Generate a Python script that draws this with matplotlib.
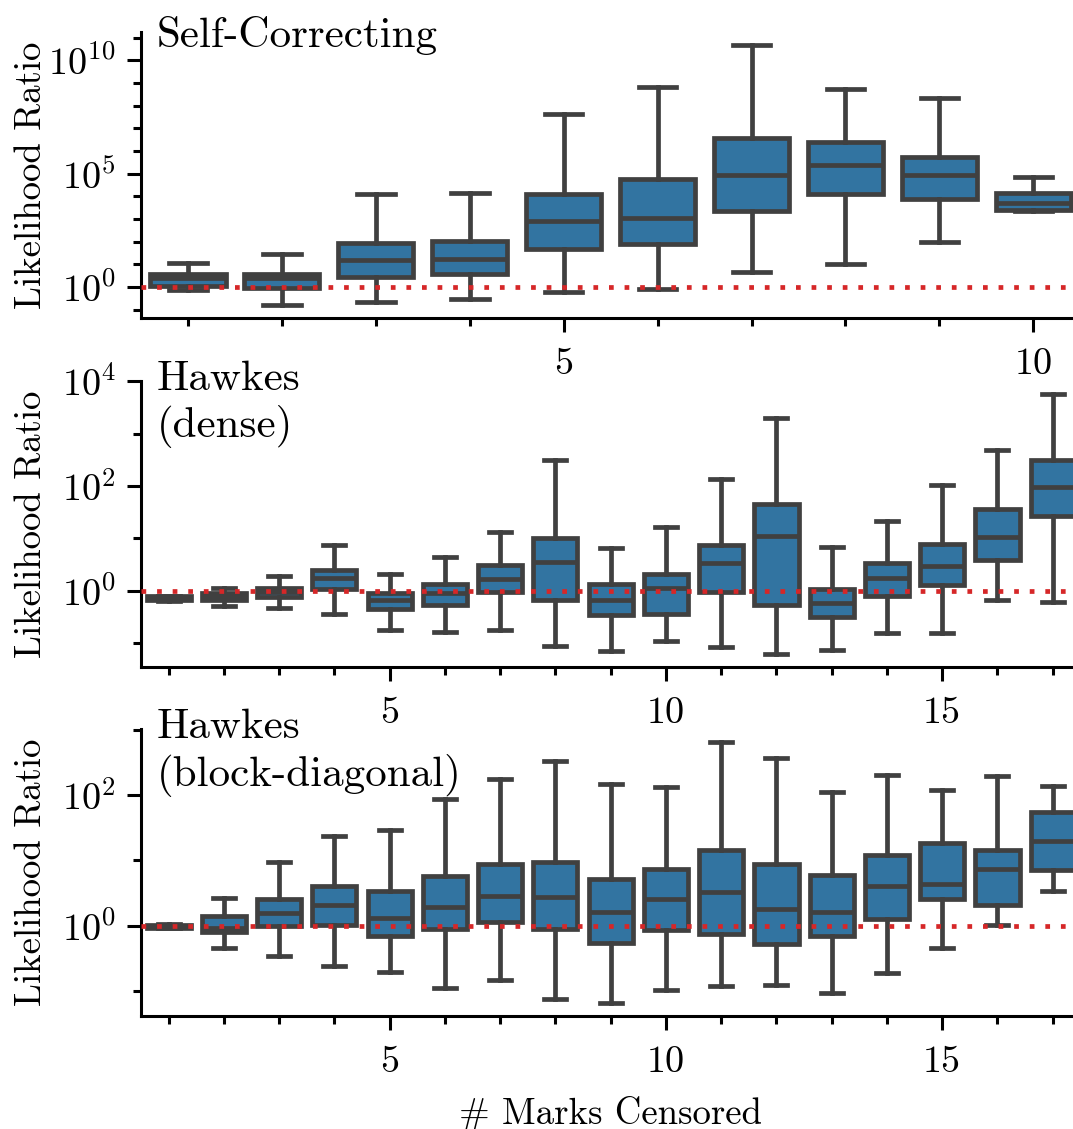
import matplotlib.pyplot as plt
import numpy as np
from matplotlib import ticker

plt.rcParams['font.family'] = ['cmr10', 'DejaVu Serif']
plt.rcParams['mathtext.fontset'] = 'cm'
plt.rcParams['axes.formatter.use_mathtext'] = True
plt.rcParams['axes.unicode_minus'] = False

# box statistics, stored as log10 of the likelihood ratio
sc_marks = [1, 2, 3, 4, 5, 6, 7, 8, 9, 10]
sc_lo = [-0.12, -0.81, -0.66, -0.54, -0.22, -0.09, 0.66, 0.99, 1.99, 3.35]
sc_q1 = [0.03, -0.03, 0.44, 0.56, 1.69, 1.91, 3.35, 4.08, 3.90, 3.41]
sc_med = [0.37, 0.37, 1.18, 1.21, 2.90, 3.06, 4.93, 5.37, 4.93, 3.72]
sc_q3 = [0.59, 0.56, 1.94, 2.03, 4.12, 4.78, 6.57, 6.40, 5.73, 4.16]
sc_hi = [1.06, 1.44, 4.12, 4.15, 7.62, 8.80, 10.69, 8.75, 8.35, 4.83]

hd_marks = [1, 2, 3, 4, 5, 6, 7, 8, 9, 10, 11, 12, 13, 14, 15, 16, 17]
hd_lo = [-0.19, -0.29, -0.32, -0.44, -0.75, -0.78, -0.75, -1.05, -1.15,
         -0.95, -1.07, -1.21, -1.13, -0.81, -0.80, -0.18, -0.21]
hd_q1 = [-0.18, -0.18, -0.11, 0.03, -0.34, -0.27, -0.03, -0.17, -0.46,
         -0.44, -0.02, -0.27, -0.50, -0.10, 0.11, 0.58, 1.42]
hd_med = [-0.14, -0.10, -0.02, 0.25, -0.17, -0.04, 0.23, 0.55, -0.18,
          0.05, 0.53, 1.04, -0.23, 0.24, 0.47, 1.03, 1.98]
hd_q3 = [-0.10, -0.04, 0.06, 0.39, -0.05, 0.14, 0.49, 1.01, 0.13,
         0.33, 0.88, 1.66, 0.03, 0.53, 0.90, 1.56, 2.50]
hd_hi = [-0.09, 0.06, 0.29, 0.88, 0.33, 0.65, 1.12, 2.49, 0.81,
         1.21, 2.14, 3.30, 0.83, 1.33, 2.01, 2.69, 3.76]

hb_marks = [1, 2, 3, 4, 5, 6, 7, 8, 9, 10, 11, 12, 13, 14, 15, 16, 17]
hb_lo = [-0.04, -0.35, -0.46, -0.62, -0.71, -0.96, -0.84, -1.12, -1.18,
         -0.99, -0.92, -0.91, -1.03, -0.73, -0.35, 0.01, 0.53]
hb_q1 = [-0.03, -0.10, -0.01, 0.01, -0.16, -0.06, 0.05, -0.06, -0.26,
         -0.07, -0.13, -0.28, -0.16, 0.10, 0.40, 0.32, 0.85]
hb_med = [-0.01, -0.03, 0.19, 0.32, 0.12, 0.29, 0.46, 0.43, 0.20,
          0.40, 0.52, 0.25, 0.20, 0.60, 0.63, 0.87, 1.30]
hb_q3 = [0.01, 0.15, 0.40, 0.60, 0.53, 0.76, 0.95, 0.98, 0.72,
         0.86, 1.16, 0.94, 0.78, 1.08, 1.27, 1.16, 1.74]
hb_hi = [0.02, 0.42, 0.97, 1.37, 1.47, 1.93, 2.24, 2.52, 2.17,
         2.12, 2.81, 2.57, 2.05, 2.31, 2.08, 2.29, 2.14]

box_color = '#3274a1'
line_color = '#404040'


def draw_panel(ax, marks, lo, q1, med, q3, hi, name_lines, name_y, major_base):
    stats = []
    for a, b, c, d, e in zip(lo, q1, med, q3, hi):
        stats.append(dict(whislo=10 ** a, q1=10 ** b, med=10 ** c,
                          q3=10 ** d, whishi=10 ** e))
    ax.set_yscale('log')
    line = dict(color=line_color, linewidth=3.4)
    ax.bxp(stats, positions=np.arange(len(marks)), widths=0.8, capwidths=0.4,
           patch_artist=True, showfliers=False, manage_ticks=False,
           boxprops=dict(facecolor=box_color, edgecolor=line_color, linewidth=3.4),
           whiskerprops=line, capprops=line, medianprops=line)
    ax.axhline(1, color='#d62728', linewidth=3.4, linestyle=(0, (1, 2.3)), zorder=5)
    ax.set_xlim(-0.5, len(marks) - 0.5)

    major = [i for i, m in enumerate(marks) if m % 5 == 0]
    minor = [i for i, m in enumerate(marks) if m % 5 != 0]
    ax.set_xticks(major, [str(marks[i]) for i in major])
    ax.set_xticks(minor, minor=True)

    ax.yaxis.set_major_locator(ticker.LogLocator(base=major_base))
    ax.yaxis.set_minor_locator(ticker.LogLocator(base=10, subs=(1.0,), numticks=40))
    ax.yaxis.set_minor_formatter(ticker.NullFormatter())

    ax.tick_params(which='major', length=10, width=2.2, labelsize=27.5)
    ax.tick_params(axis='x', which='major', pad=11.5)
    ax.tick_params(axis='y', which='major', pad=8)
    ax.tick_params(which='minor', length=5.5, width=2.2)
    for s in ['top', 'right']:
        ax.spines[s].set_visible(False)
    for s in ['left', 'bottom']:
        ax.spines[s].set_linewidth(2.2)

    ax.set_ylabel('Likelihood Ratio', fontsize=26.5)
    ax.yaxis.set_label_coords(-0.099, 0.5)
    for txt, y in zip(name_lines, name_y):
        ax.text(0.017, y, txt, transform=ax.transAxes, fontsize=31,
                ha='left', va='baseline')


fig = plt.figure(figsize=(10.73, 11.29), dpi=100)
ax1 = fig.add_axes([0.1314, 0.7181, 0.8754, 0.2539])
ax2 = fig.add_axes([0.1314, 0.4089, 0.8754, 0.2539])
ax3 = fig.add_axes([0.1314, 0.1004, 0.8754, 0.2539])

draw_panel(ax1, sc_marks, sc_lo, sc_q1, sc_med, sc_q3, sc_hi,
           ['Self-Correcting'], [0.948], 1e5)
draw_panel(ax2, hd_marks, hd_lo, hd_q1, hd_med, hd_q3, hd_hi,
           ['Hawkes', '(dense)'], [0.968, 0.803], 1e2)
draw_panel(ax3, hb_marks, hb_lo, hb_q1, hb_med, hb_q3, hb_hi,
           ['Hawkes', '(block-diagonal)'], [0.969, 0.800], 1e2)

ax3.set_xlabel('# Marks Censored', fontsize=26.5)
ax3.xaxis.set_label_coords(0.5, -0.28)

fig.savefig('out.png', dpi=100)
